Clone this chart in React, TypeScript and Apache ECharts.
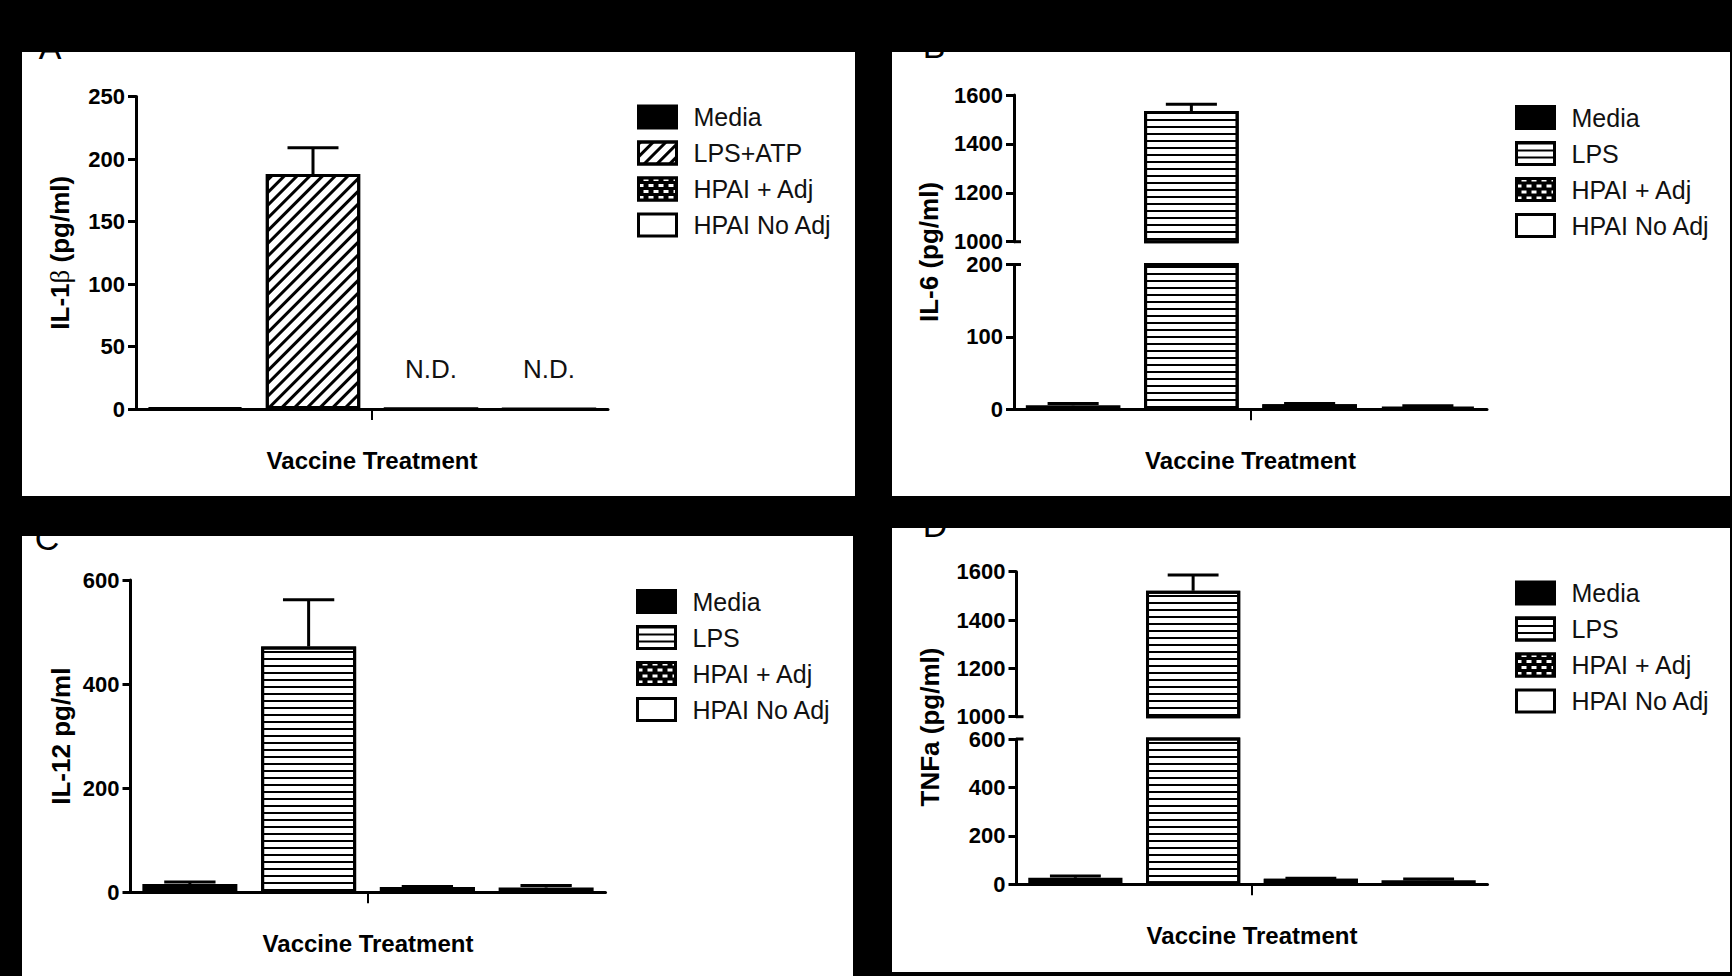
import React, { useEffect, useRef } from 'react';
import * as echarts from 'echarts';

// ---------------- data ----------------
const categories = ['Vaccine Treatment'];
const groupsA = ['Media', 'LPS+ATP', 'HPAI + Adj', 'HPAI No Adj'];
const groupsBCD = ['Media', 'LPS', 'HPAI + Adj', 'HPAI No Adj'];

const il1bMean = [1, 188, 0, 0];
const il1bSem = [0, 21, 0, 0];
const il1bNote = ['', '', 'N.D.', 'N.D.'];
const il1bTicks = [0, 50, 100, 150, 200, 250];

const il6Mean = [5.5, 1535, 7, 3.5];
const il6Sem = [2.5, 27, 1, 1.5];
const il6TicksHigh = [1000, 1200, 1400, 1600];
const il6TicksLow = [0, 100, 200];

const il12Mean = [16, 472, 10, 9];
const il12Sem = [4, 90, 1, 4];
const il12Ticks = [0, 200, 400, 600];

const tnfMean = [27, 1521, 23, 17];
const tnfSem = [7, 65, 2, 5];
const tnfTicksHigh = [1000, 1200, 1400, 1600];
const tnfTicksLow = [0, 200, 400, 600];

// ---------------- layout / style ----------------
const FONT = '"Liberation Sans", Arial, Helvetica, sans-serif';
const BAR_W = 0.2;
const BAR_GAP = 0.25;

const PANELS = [
  { x: 22, y: 52, w: 833, h: 444 },
  { x: 892, y: 52, w: 838, h: 444 },
  { x: 22, y: 536, w: 831, h: 440 },
  { x: 892, y: 528, w: 838, h: 444 },
];

const G_A = { left: 136, top: 96.5, width: 472, height: 312.5 };
const G_B_HI = { left: 1014, top: 95, width: 473, height: 146.7 };
const G_B_LO = { left: 1014, top: 264.5, width: 473, height: 144.8 };
const G_C = { left: 130.5, top: 580, width: 475, height: 312.3 };
const G_D_HI = { left: 1016.5, top: 571.7, width: 471, height: 145 };
const G_D_LO = { left: 1016.5, top: 739, width: 471, height: 145.3 };

const decalDiag = {
  symbol: 'rect', symbolSize: 1, symbolKeepAspect: false, color: '#000',
  dashArrayX: [1, 0], dashArrayY: [2.5, 5.5], rotation: -Math.PI / 4,
};
const decalHoriz = {
  symbol: 'rect', symbolSize: 1, symbolKeepAspect: false, color: '#000',
  dashArrayX: [1, 0], dashArrayY: [1.6, 5],
};
const decalChecker = {
  symbol: 'rect', symbolSize: 1, symbolKeepAspect: false, color: '#fff',
  dashArrayX: [[5, 5], [0, 5, 5, 0]], dashArrayY: [3, 3],
};

function fillStyle(i: number, diagonal: boolean) {
  if (i === 0) return { color: '#000' };
  if (i === 1) return { color: '#fff', decal: diagonal ? decalDiag : decalHoriz };
  if (i === 2) return { color: '#000', decal: decalChecker };
  return { color: '#fff' };
}

function barSeries(names: string[], means: number[], notes: string[] | null, axis: number, diagonal: boolean) {
  return names.map((name, i) => ({
    type: 'bar',
    name,
    xAxisIndex: axis,
    yAxisIndex: axis,
    barWidth: BAR_W * 100 + '%',
    barGap: BAR_GAP * 100 + '%',
    clip: true,
    silent: true,
    itemStyle: { ...fillStyle(i, diagonal), borderColor: '#000', borderWidth: 3 },
    label: notes && notes[i]
      ? { show: true, position: 'top', distance: 26, formatter: notes[i], fontSize: 26, color: '#111', fontFamily: FONT }
      : { show: false },
    data: [means[i]],
  }));
}

function errSeries(means: number[], sems: number[], axis: number) {
  return {
    type: 'custom',
    xAxisIndex: axis,
    yAxisIndex: axis,
    clip: true,
    silent: true,
    z: 3,
    encode: { x: 0, y: 2 },
    data: means.map((m, i) => [0, i, m, sems[i]]),
    renderItem: (params: any, api: any) => {
      const idx = api.value(1);
      const mean = api.value(2);
      const sem = api.value(3);
      if (!(sem > 0)) return null;
      const band = api.size([1, 0])[0];
      const bw = band * BAR_W;
      const gap = bw * BAR_GAP;
      const total = 4 * bw + 3 * gap;
      const base = api.coord([0, mean]);
      const top = api.coord([0, mean + sem]);
      const x = base[0] - total / 2 + idx * (bw + gap) + bw / 2;
      const half = bw * 0.27;
      const st = { stroke: '#000', lineWidth: 3 };
      return {
        type: 'group',
        children: [
          { type: 'line', shape: { x1: x, y1: base[1], x2: x, y2: top[1] }, style: st },
          { type: 'line', shape: { x1: x - half, y1: top[1], x2: x + half, y2: top[1] }, style: st },
        ],
      };
    },
  };
}

function xAxis(gridIndex: number, show: boolean) {
  return {
    type: 'category',
    gridIndex,
    data: categories,
    show,
    axisLine: { show: true, lineStyle: { color: '#000', width: 3 } },
    axisTick: { show: true, alignWithLabel: true, length: 11, lineStyle: { color: '#000', width: 2 } },
    axisLabel: { fontSize: 24, fontWeight: 'bold', color: '#000', margin: 39, fontFamily: FONT },
    splitLine: { show: false },
  };
}

function yAxis(gridIndex: number, ticks: number[], extra: any = {}) {
  return {
    type: 'value',
    gridIndex,
    min: ticks[0],
    max: ticks[ticks.length - 1],
    interval: ticks[1] - ticks[0],
    axisLine: { show: true, lineStyle: { color: '#000', width: 3 } },
    axisTick: { show: true, length: 8, lineStyle: { color: '#000', width: 3 } },
    axisLabel: {
      color: '#000', fontSize: 22, fontWeight: 'bold', fontFamily: FONT, margin: 11,
      formatter: (v: number) => String(v),
    },
    splitLine: { show: false },
    ...extra,
  };
}

const nameStyle = { fontSize: 26, fontWeight: 'bold', color: '#000', fontFamily: FONT };

function legend(names: string[], left: number, top: number) {
  return {
    data: names,
    orient: 'vertical',
    left,
    top,
    padding: 0,
    itemWidth: 38,
    itemHeight: 22,
    itemGap: 11,
    icon: 'rect',
    selectedMode: false,
    itemStyle: { borderColor: '#000', borderWidth: 3 },
    textStyle: { fontSize: 25, color: '#111', fontFamily: FONT, padding: [0, 0, 0, 12] },
  };
}

function stub(g: any, y: number) {
  return {
    type: 'line', z: 10,
    shape: { x1: g.left, y1: y, x2: g.left + 7, y2: y },
    style: { stroke: '#000', lineWidth: 3 },
  };
}

function letter(t: string, x: number, y: number) {
  return {
    type: 'text', x, y, z: 5,
    style: { text: t, fill: '#000', font: `34px ${FONT}`, align: 'center', verticalAlign: 'middle' },
  };
}

function vname(t: string, x: number, y: number) {
  return {
    type: 'text', x, y, rotation: Math.PI / 2, z: 5,
    style: { text: t, fill: '#000', font: `bold 26px ${FONT}`, align: 'center', verticalAlign: 'middle' },
  };
}

const option: any = {
  animation: false,
  backgroundColor: '#000',
  graphic: [
    ...PANELS.map((p) => ({ type: 'rect', z: -10, shape: { x: p.x, y: p.y, width: p.w, height: p.h }, style: { fill: '#fff' } })),
    letter('A', 50, 47),
    letter('B', 934, 46),
    letter('C', 47, 538),
    letter('D', 935, 525),
    vname('IL-6 (pg/ml)', 929, 252),
    vname('TNFa (pg/ml)', 930, 727),
    stub(G_B_HI, G_B_HI.top + G_B_HI.height),
    stub(G_B_LO, G_B_LO.top),
    stub(G_D_HI, G_D_HI.top + G_D_HI.height),
    stub(G_D_LO, G_D_LO.top),
  ],
  grid: [G_A, G_B_HI, G_B_LO, G_C, G_D_HI, G_D_LO].map((g) => ({ ...g, containLabel: false })),
  xAxis: [xAxis(0, true), xAxis(1, false), xAxis(2, true), xAxis(3, true), xAxis(4, false), xAxis(5, true)],
  yAxis: [
    yAxis(0, il1bTicks, {
      name: 'IL-1{g|β} (pg/ml)', nameLocation: 'middle', nameGap: 63,
      nameTextStyle: { ...nameStyle, rich: { g: { fontFamily: '"Liberation Serif", serif', fontSize: 27, fontWeight: 'normal', color: '#000' } } },
    }),
    yAxis(1, il6TicksHigh),
    yAxis(2, il6TicksLow),
    yAxis(3, il12Ticks, { name: 'IL-12 pg/ml', nameLocation: 'middle', nameGap: 57, nameTextStyle: nameStyle }),
    yAxis(4, tnfTicksHigh),
    yAxis(5, tnfTicksLow),
  ],
  legend: [
    legend(groupsA, 637, 104.5),
    legend(groupsBCD, 1515, 105),
    legend(groupsBCD, 636, 589),
    legend(groupsBCD, 1515, 580.5),
  ],
  series: [
    ...barSeries(groupsA, il1bMean, il1bNote, 0, true),
    errSeries(il1bMean, il1bSem, 0),
    ...barSeries(groupsBCD, il6Mean, null, 1, false),
    ...barSeries(groupsBCD, il6Mean, null, 2, false),
    errSeries(il6Mean, il6Sem, 1),
    errSeries(il6Mean, il6Sem, 2),
    ...barSeries(groupsBCD, il12Mean, null, 3, false),
    errSeries(il12Mean, il12Sem, 3),
    ...barSeries(groupsBCD, tnfMean, null, 4, false),
    ...barSeries(groupsBCD, tnfMean, null, 5, false),
    errSeries(tnfMean, tnfSem, 4),
    errSeries(tnfMean, tnfSem, 5),
  ],
};

export default function App() {
  const ref = useRef<HTMLDivElement>(null);
  useEffect(() => {
    const chart = echarts.init(ref.current as HTMLDivElement, null, { renderer: 'svg' });
    chart.setOption(option);
    return () => chart.dispose();
  }, []);
  return <div ref={ref} style={{ position: 'fixed', left: 0, top: 0, width: 1732, height: 976 }} />;
}
